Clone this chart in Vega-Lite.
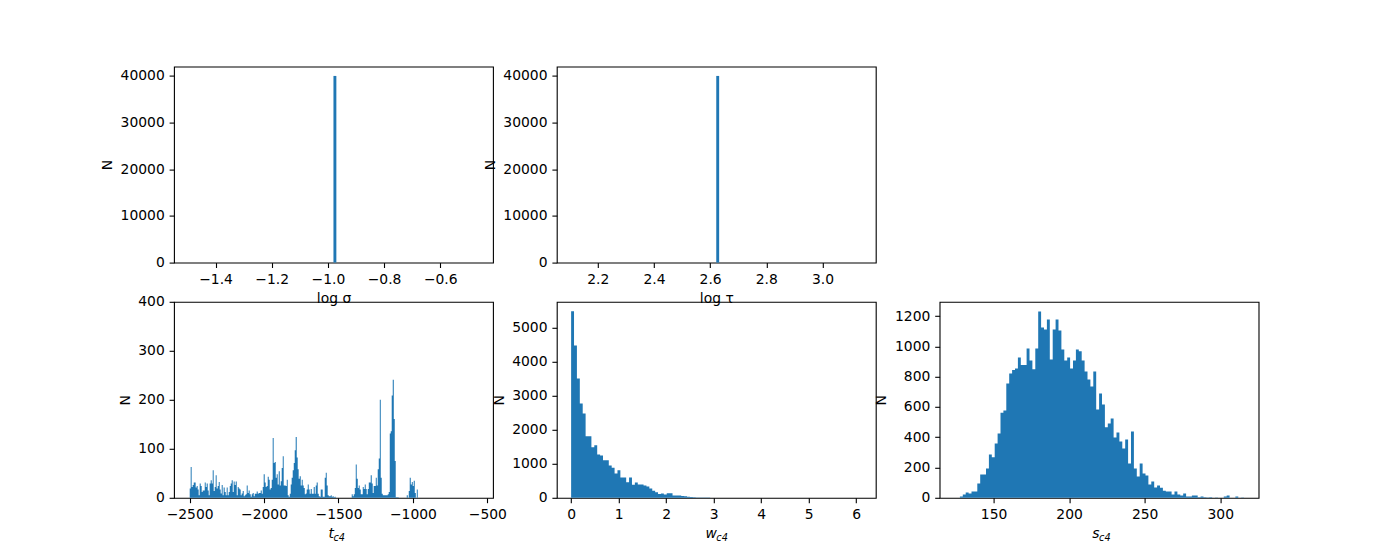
{
  "$schema": "https://vega.github.io/schema/vega-lite/v6.json",
  "background": "white",
  "padding": {"left": 99, "top": 65.6, "right": 10, "bottom": 10},
  "config": {
    "font": "DejaVu Sans",
    "view": {"stroke": "black", "strokeWidth": 1.1},
    "axis": {
      "domain": false, "grid": false,
      "tickColor": "black", "tickSize": 4.9, "tickWidth": 1.1,
      "labelColor": "black", "labelFontSize": 13.9, "labelFont": "DejaVu Sans", "labelPadding": 4.9,
      "labelFlush": false, "labelOverlap": false,
      "titleColor": "black", "titleFontSize": 13.9, "titleFont": "DejaVu Sans", "titleFontWeight": "normal", "titlePadding": 5.5
    },
    "bar": {"color": "#1f77b4"},
    "area": {"color": "#1f77b4"}
  },
  "datasets": {
    "sigma": [{"x": -0.975, "n": 40000}],
    "tau": [{"x": 2.627, "n": 40000}],
    "t": [
      {"x": -2503, "n": 0},
      {"x": -2496, "n": 19}, {"x": -2490, "n": 63}, {"x": -2483, "n": 22}, {"x": -2476, "n": 26}, {"x": -2469, "n": 31},
      {"x": -2463, "n": 31}, {"x": -2456, "n": 21}, {"x": -2449, "n": 24}, {"x": -2443, "n": 17}, {"x": -2436, "n": 5},
      {"x": -2429, "n": 29}, {"x": -2422, "n": 24}, {"x": -2416, "n": 12}, {"x": -2409, "n": 15}, {"x": -2402, "n": 15},
      {"x": -2395, "n": 31}, {"x": -2389, "n": 22}, {"x": -2382, "n": 29}, {"x": -2375, "n": 15}, {"x": -2369, "n": 5},
      {"x": -2362, "n": 29}, {"x": -2355, "n": 36}, {"x": -2348, "n": 29}, {"x": -2342, "n": 56}, {"x": -2335, "n": 14},
      {"x": -2328, "n": 22}, {"x": -2322, "n": 46}, {"x": -2315, "n": 19}, {"x": -2308, "n": 24}, {"x": -2301, "n": 32},
      {"x": -2295, "n": 17}, {"x": -2288, "n": 9}, {"x": -2281, "n": 26}, {"x": -2275, "n": 5}, {"x": -2268, "n": 21},
      {"x": -2261, "n": 12}, {"x": -2254, "n": 5}, {"x": -2248, "n": 21}, {"x": -2241, "n": 5}, {"x": -2234, "n": 12},
      {"x": -2227, "n": 24}, {"x": -2221, "n": 29}, {"x": -2214, "n": 36}, {"x": -2207, "n": 12}, {"x": -2201, "n": 33},
      {"x": -2194, "n": 26}, {"x": -2187, "n": 33}, {"x": -2180, "n": 5}, {"x": -2174, "n": 22}, {"x": -2167, "n": 19},
      {"x": -2160, "n": 17}, {"x": -2154, "n": 5}, {"x": -2147, "n": 9}, {"x": -2140, "n": 14}, {"x": -2133, "n": 3},
      {"x": -2127, "n": 5}, {"x": -2120, "n": 7}, {"x": -2113, "n": 25}, {"x": -2107, "n": 10}, {"x": -2100, "n": 15},
      {"x": -2093, "n": 7}, {"x": -2086, "n": 2}, {"x": -2080, "n": 7}, {"x": -2073, "n": 10}, {"x": -2066, "n": 3},
      {"x": -2059, "n": 8}, {"x": -2053, "n": 8}, {"x": -2046, "n": 13}, {"x": -2039, "n": 8}, {"x": -2033, "n": 10},
      {"x": -2026, "n": 10}, {"x": -2019, "n": 15}, {"x": -2012, "n": 8}, {"x": -2006, "n": 22}, {"x": -1999, "n": 48},
      {"x": -1992, "n": 31}, {"x": -1986, "n": 22}, {"x": -1979, "n": 24}, {"x": -1972, "n": 43}, {"x": -1965, "n": 37},
      {"x": -1959, "n": 17}, {"x": -1952, "n": 20}, {"x": -1945, "n": 37}, {"x": -1939, "n": 122}, {"x": -1932, "n": 71},
      {"x": -1925, "n": 73}, {"x": -1918, "n": 41}, {"x": -1912, "n": 48}, {"x": -1905, "n": 27}, {"x": -1898, "n": 54},
      {"x": -1891, "n": 25}, {"x": -1885, "n": 34}, {"x": -1878, "n": 61}, {"x": -1871, "n": 85}, {"x": -1865, "n": 25},
      {"x": -1858, "n": 25}, {"x": -1851, "n": 24}, {"x": -1844, "n": 37}, {"x": -1838, "n": 5}, {"x": -1831, "n": 2},
      {"x": -1824, "n": 8}, {"x": -1818, "n": 27}, {"x": -1811, "n": 41}, {"x": -1804, "n": 56}, {"x": -1797, "n": 71},
      {"x": -1791, "n": 97}, {"x": -1784, "n": 124}, {"x": -1777, "n": 82}, {"x": -1771, "n": 58}, {"x": -1764, "n": 39},
      {"x": -1757, "n": 44}, {"x": -1750, "n": 25}, {"x": -1744, "n": 37}, {"x": -1737, "n": 25}, {"x": -1730, "n": 20},
      {"x": -1723, "n": 7}, {"x": -1717, "n": 9}, {"x": -1710, "n": 17}, {"x": -1703, "n": 27}, {"x": -1697, "n": 17},
      {"x": -1690, "n": 8}, {"x": -1683, "n": 18}, {"x": -1676, "n": 8}, {"x": -1670, "n": 8}, {"x": -1663, "n": 22},
      {"x": -1656, "n": 8}, {"x": -1650, "n": 25}, {"x": -1643, "n": 31}, {"x": -1636, "n": 8}, {"x": -1629, "n": 3},
      {"x": -1623, "n": 2}, {"x": -1616, "n": 17}, {"x": -1609, "n": 17}, {"x": -1603, "n": 2}, {"x": -1596, "n": 2},
      {"x": -1589, "n": 41}, {"x": -1582, "n": 51}, {"x": -1576, "n": 25}, {"x": -1569, "n": 5}, {"x": -1562, "n": 3},
      {"x": -1555, "n": 3}, {"x": -1549, "n": 5}, {"x": -1542, "n": 2}, {"x": -1535, "n": 3}, {"x": -1529, "n": 1},
      {"x": -1522, "n": 2}, {"x": -1515, "n": 0},
      {"x": -1414, "n": 0},
      {"x": -1408, "n": 7}, {"x": -1401, "n": 3}, {"x": -1394, "n": 7}, {"x": -1387, "n": 20}, {"x": -1381, "n": 68},
      {"x": -1374, "n": 39}, {"x": -1367, "n": 20}, {"x": -1361, "n": 25}, {"x": -1354, "n": 17}, {"x": -1347, "n": 7},
      {"x": -1340, "n": 7}, {"x": -1334, "n": 22}, {"x": -1327, "n": 18}, {"x": -1320, "n": 27}, {"x": -1314, "n": 18},
      {"x": -1307, "n": 7}, {"x": -1300, "n": 18}, {"x": -1293, "n": 31}, {"x": -1287, "n": 31}, {"x": -1280, "n": 46},
      {"x": -1273, "n": 29}, {"x": -1267, "n": 10}, {"x": -1260, "n": 24}, {"x": -1253, "n": 24}, {"x": -1246, "n": 41},
      {"x": -1240, "n": 25}, {"x": -1233, "n": 58}, {"x": -1226, "n": 80}, {"x": -1219, "n": 200}, {"x": -1213, "n": 41},
      {"x": -1206, "n": 8}, {"x": -1199, "n": 5}, {"x": -1193, "n": 5}, {"x": -1186, "n": 5}, {"x": -1179, "n": 5},
      {"x": -1172, "n": 5}, {"x": -1166, "n": 7}, {"x": -1159, "n": 12}, {"x": -1152, "n": 131}, {"x": -1146, "n": 136},
      {"x": -1139, "n": 209}, {"x": -1132, "n": 241}, {"x": -1125, "n": 161}, {"x": -1119, "n": 75}, {"x": -1112, "n": 1},
      {"x": -1105, "n": 1}, {"x": -1099, "n": 1}, {"x": -1092, "n": 0},
      {"x": -1045, "n": 0}, {"x": -1038, "n": 5}, {"x": -1031, "n": 0},
      {"x": -1025, "n": 14}, {"x": -1018, "n": 41}, {"x": -1011, "n": 27}, {"x": -1004, "n": 32},
      {"x": -998, "n": 24}, {"x": -991, "n": 35}, {"x": -984, "n": 10}, {"x": -977, "n": 0}, {"x": -971, "n": 17}, {"x": -964, "n": 0}
    ],
    "w": [
      {"x": -0.030, "n": 0},
      {"x": 0.031, "n": 5490}, {"x": 0.092, "n": 4480}, {"x": 0.153, "n": 3510}, {"x": 0.214, "n": 2775}, {"x": 0.275, "n": 2480},
      {"x": 0.336, "n": 1810}, {"x": 0.397, "n": 1810}, {"x": 0.458, "n": 1490}, {"x": 0.519, "n": 1545}, {"x": 0.580, "n": 1275},
      {"x": 0.641, "n": 1245}, {"x": 0.702, "n": 1105}, {"x": 0.763, "n": 1105}, {"x": 0.824, "n": 950}, {"x": 0.885, "n": 885},
      {"x": 0.946, "n": 715}, {"x": 1.007, "n": 810}, {"x": 1.068, "n": 600}, {"x": 1.129, "n": 600}, {"x": 1.190, "n": 455},
      {"x": 1.251, "n": 600}, {"x": 1.312, "n": 385}, {"x": 1.373, "n": 450}, {"x": 1.434, "n": 390}, {"x": 1.495, "n": 390},
      {"x": 1.556, "n": 360}, {"x": 1.617, "n": 330}, {"x": 1.678, "n": 275}, {"x": 1.739, "n": 205}, {"x": 1.800, "n": 165},
      {"x": 1.861, "n": 110}, {"x": 1.922, "n": 125}, {"x": 1.983, "n": 100}, {"x": 2.044, "n": 135}, {"x": 2.105, "n": 135},
      {"x": 2.166, "n": 70}, {"x": 2.227, "n": 70}, {"x": 2.288, "n": 70}, {"x": 2.349, "n": 50}, {"x": 2.410, "n": 45},
      {"x": 2.471, "n": 30}, {"x": 2.532, "n": 25}, {"x": 2.593, "n": 15}, {"x": 2.654, "n": 12}, {"x": 2.715, "n": 10},
      {"x": 2.776, "n": 8}, {"x": 2.837, "n": 6}, {"x": 2.898, "n": 5}, {"x": 2.959, "n": 4}, {"x": 3.020, "n": 3},
      {"x": 3.142, "n": 2}, {"x": 3.264, "n": 2}, {"x": 3.508, "n": 1}, {"x": 4.057, "n": 1}, {"x": 6.080, "n": 1},
      {"x": 6.141, "n": 0}
    ],
    "s": [
      {"x": 126.78, "n": 0},
      {"x": 128.70, "n": 9}, {"x": 130.62, "n": 22}, {"x": 132.54, "n": 35}, {"x": 134.46, "n": 29}, {"x": 136.37, "n": 42},
      {"x": 138.29, "n": 42}, {"x": 140.21, "n": 95}, {"x": 142.13, "n": 154}, {"x": 144.05, "n": 154}, {"x": 145.97, "n": 194},
      {"x": 147.89, "n": 286}, {"x": 149.81, "n": 268}, {"x": 151.73, "n": 359}, {"x": 153.65, "n": 425}, {"x": 155.56, "n": 561},
      {"x": 157.48, "n": 576}, {"x": 159.40, "n": 755}, {"x": 161.32, "n": 821}, {"x": 163.24, "n": 843}, {"x": 165.16, "n": 854},
      {"x": 167.08, "n": 926}, {"x": 169.00, "n": 876}, {"x": 170.92, "n": 876}, {"x": 172.84, "n": 986}, {"x": 174.75, "n": 906},
      {"x": 176.67, "n": 849}, {"x": 178.59, "n": 986}, {"x": 180.51, "n": 1230}, {"x": 182.43, "n": 1124}, {"x": 184.35, "n": 1111},
      {"x": 186.27, "n": 1177}, {"x": 188.19, "n": 913}, {"x": 190.11, "n": 1111}, {"x": 192.03, "n": 1177}, {"x": 193.94, "n": 1104},
      {"x": 195.86, "n": 979}, {"x": 197.78, "n": 906}, {"x": 199.70, "n": 926}, {"x": 201.62, "n": 854}, {"x": 203.54, "n": 906},
      {"x": 205.46, "n": 979}, {"x": 207.38, "n": 968}, {"x": 209.30, "n": 906}, {"x": 211.22, "n": 834}, {"x": 213.13, "n": 781},
      {"x": 215.05, "n": 735}, {"x": 216.97, "n": 834}, {"x": 218.89, "n": 583}, {"x": 220.81, "n": 689}, {"x": 222.73, "n": 616},
      {"x": 224.65, "n": 466}, {"x": 226.57, "n": 491}, {"x": 228.49, "n": 524}, {"x": 230.41, "n": 398}, {"x": 232.32, "n": 431},
      {"x": 234.24, "n": 372}, {"x": 236.16, "n": 326}, {"x": 238.08, "n": 385}, {"x": 240.00, "n": 227}, {"x": 241.92, "n": 438},
      {"x": 243.84, "n": 194}, {"x": 245.76, "n": 141}, {"x": 247.68, "n": 227}, {"x": 249.60, "n": 161}, {"x": 251.51, "n": 147},
      {"x": 253.43, "n": 88}, {"x": 255.35, "n": 108}, {"x": 257.27, "n": 68}, {"x": 259.19, "n": 81}, {"x": 261.11, "n": 66},
      {"x": 263.03, "n": 46}, {"x": 264.95, "n": 42}, {"x": 266.87, "n": 42}, {"x": 268.79, "n": 22}, {"x": 270.70, "n": 42},
      {"x": 272.62, "n": 22}, {"x": 274.54, "n": 15}, {"x": 276.46, "n": 29}, {"x": 278.38, "n": 9}, {"x": 280.30, "n": 9},
      {"x": 282.22, "n": 15}, {"x": 284.14, "n": 15}, {"x": 286.06, "n": 4}, {"x": 287.98, "n": 9}, {"x": 289.89, "n": 4},
      {"x": 291.81, "n": 2}, {"x": 293.73, "n": 3}, {"x": 295.65, "n": 0}, {"x": 297.57, "n": 2}, {"x": 299.48, "n": 0},
      {"x": 301.40, "n": 0}, {"x": 303.33, "n": 9}, {"x": 305.25, "n": 15}, {"x": 307.16, "n": 0}, {"x": 309.08, "n": 0},
      {"x": 311.00, "n": 9}, {"x": 312.92, "n": 0}, {"x": 314.84, "n": 2}, {"x": 316.76, "n": 0}
    ]
  },
  "columns": 3,
  "spacing": {"row": 39.2, "column": 63.8},
  "bounds": "flush",
  "concat": [
    {
      "width": 319, "height": 196,
      "data": {"name": "sigma"},
      "mark": {"type": "bar", "orient": "vertical", "width": 2.9},
      "encoding": {
        "x": {"field": "x", "type": "quantitative", "scale": {"domain": [-1.53, -0.43], "nice": false, "zero": false},
              "axis": {"values": [-1.4, -1.2, -1.0, -0.8, -0.6], "format": ".1f", "title": "log σ"}},
        "y": {"field": "n", "type": "quantitative", "scale": {"domain": [0, 42000], "nice": false},
              "axis": {"values": [0, 10000, 20000, 30000, 40000], "format": "d", "title": "N"}}
      }
    },
    {
      "width": 319, "height": 196,
      "data": {"name": "tau"},
      "mark": {"type": "bar", "orient": "vertical", "width": 2.9},
      "encoding": {
        "x": {"field": "x", "type": "quantitative", "scale": {"domain": [2.072, 3.172], "nice": false, "zero": false},
              "axis": {"values": [2.2, 2.4, 2.6, 2.8, 3.0], "format": ".1f", "title": "log τ"}},
        "y": {"field": "n", "type": "quantitative", "scale": {"domain": [0, 42000], "nice": false},
              "axis": {"values": [0, 10000, 20000, 30000, 40000], "format": "d", "title": "N"}}
      }
    },
    {
      "width": 319, "height": 196,
      "data": {"values": []},
      "mark": "point",
      "view": {"stroke": null}
    },
    {
      "width": 319, "height": 196,
      "data": {"name": "t"},
      "title": {"text": "c4", "orient": "bottom", "frame": "group", "anchor": "middle", "align": "left", "baseline": "top",
                "fontSize": 9.7, "fontStyle": "italic", "fontWeight": "normal", "color": "black", "offset": 0, "dy": -8},
      "mark": {"type": "area", "orient": "vertical", "interpolate": "step"},
      "encoding": {
        "x": {"field": "x", "type": "quantitative", "scale": {"domain": [-2605, -462], "nice": false, "zero": false},
              "axis": {"values": [-2500, -2000, -1500, -1000, -500], "format": "d", "title": "t", "titleFontStyle": "italic", "titleAlign": "right"}},
        "y": {"field": "n", "type": "quantitative", "scale": {"domain": [0, 400], "nice": false},
              "axis": {"values": [0, 100, 200, 300, 400], "format": "d", "title": "N"}}
      }
    },
    {
      "width": 319, "height": 196,
      "data": {"name": "w"},
      "title": {"text": "c4", "orient": "bottom", "frame": "group", "anchor": "middle", "align": "left", "baseline": "top",
                "fontSize": 9.7, "fontStyle": "italic", "fontWeight": "normal", "color": "black", "offset": 0, "dy": -8},
      "mark": {"type": "area", "orient": "vertical", "interpolate": "step"},
      "encoding": {
        "x": {"field": "x", "type": "quantitative", "scale": {"domain": [-0.301, 6.415], "nice": false, "zero": false},
              "axis": {"values": [0, 1, 2, 3, 4, 5, 6], "format": "d", "title": "w", "titleFontStyle": "italic", "titleAlign": "right"}},
        "y": {"field": "n", "type": "quantitative", "scale": {"domain": [0, 5765], "nice": false},
              "axis": {"values": [0, 1000, 2000, 3000, 4000, 5000], "format": "d", "title": "N"}}
      }
    },
    {
      "width": 319, "height": 196,
      "data": {"name": "s"},
      "title": {"text": "c4", "orient": "bottom", "frame": "group", "anchor": "middle", "align": "left", "baseline": "top",
                "fontSize": 9.7, "fontStyle": "italic", "fontWeight": "normal", "color": "black", "offset": 0, "dy": -8},
      "mark": {"type": "area", "orient": "vertical", "interpolate": "step"},
      "encoding": {
        "x": {"field": "x", "type": "quantitative", "scale": {"domain": [114.3, 325.4], "nice": false, "zero": false},
              "axis": {"values": [150, 200, 250, 300], "format": "d", "title": "s", "titleFontStyle": "italic", "titleAlign": "right"}},
        "y": {"field": "n", "type": "quantitative", "scale": {"domain": [0, 1294], "nice": false},
              "axis": {"values": [0, 200, 400, 600, 800, 1000, 1200], "format": "d", "title": "N"}}
      }
    }
  ]
}
